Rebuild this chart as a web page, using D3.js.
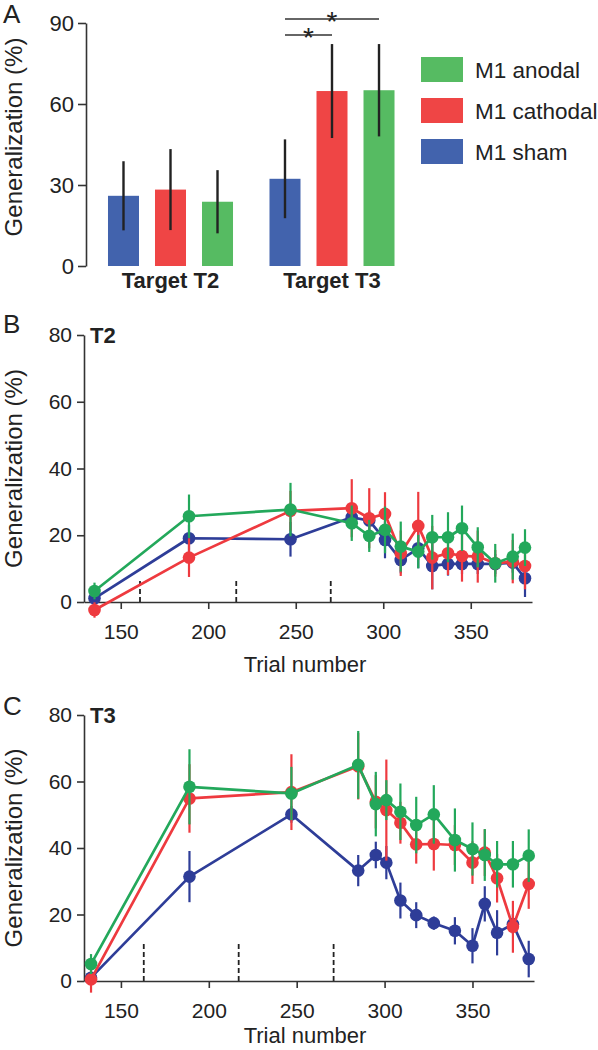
<!DOCTYPE html>
<html>
<head>
<meta charset="utf-8">
<script src="https://cdn.jsdelivr.net/npm/d3@7"></script>
<style>
  html, body { margin: 0; padding: 0; background: #fff; }
  svg { display: block; }
  text { font-family: "Liberation Sans", Arial, Helvetica, sans-serif; fill: #222; }
</style>
</head>
<body>
<svg id="chart" width="598" height="1050"></svg>
<script>
// ---------- DATA ----------
// Panel A (bars)
const groupsA = ["Target T2", "Target T3"];
const seriesNames = ["M1 sham", "M1 cathodal", "M1 anodal"];
const legendOrder = ["M1 anodal", "M1 cathodal", "M1 sham"];
const shamA = [26.0, 32.3];
const cathA = [28.3, 64.8];
const anodA = [23.8, 65.1];
const shamAErr = [12.8, 14.6];
const cathAErr = [15.0, 17.4];
const anodAErr = [11.7, 17.1];
const yTicksA = [0, 30, 60, 90];
const sigPairs = [["M1 sham", "M1 cathodal"], ["M1 sham", "M1 anodal"]];

// Panel B (T2)
const trialsB = [135, 189, 247, 282, 292, 301, 310, 320, 328, 337, 345, 354, 364, 374, 381];
const shamB = [1.1, 19.1, 18.8, 25.4, 24.4, 18.6, 12.6, 16.1, 10.8, 11.4, 11.4, 11.4, 11.4, 11.8, 7.1];
const cathB = [-2.4, 13.3, 27.3, 28.1, 25.1, 26.4, 14.6, 22.8, 13.3, 14.6, 13.8, 13.6, 11.6, 12.1, 10.8];
const anodB = [3.3, 25.7, 27.7, 23.6, 19.8, 21.6, 16.6, 15.1, 19.4, 19.4, 22.1, 16.4, 11.6, 13.6, 16.3];
const shamBErr = [1.5, 4.0, 5.2, 3.0, 3.0, 5.5, 4.0, 6.0, 7.0, 3.5, 3.0, 3.0, 3.0, 3.0, 5.6];
const cathBErr = [2.3, 5.8, 6.0, 8.7, 9.0, 6.5, 6.8, 10.2, 9.5, 6.5, 7.7, 7.8, 4.0, 6.5, 7.0];
const anodBErr = [2.5, 6.5, 8.0, 5.3, 4.8, 7.0, 7.5, 5.0, 6.7, 7.5, 6.8, 6.0, 5.8, 6.9, 5.5];
const blocksB = [161, 216, 270];

// Panel C (T3)
const trialsC = [133, 189, 247, 285, 295, 301, 309, 318, 328, 340, 350, 357, 364, 373, 382];
const shamC = [1.0, 31.4, 50.1, 33.2, 37.9, 35.6, 24.2, 19.8, 17.4, 15.1, 10.6, 23.2, 14.5, 17.1, 6.6];
const cathC = [0.5, 54.9, 56.8, 64.6, 53.9, 51.4, 47.6, 41.1, 41.2, 40.9, 35.6, 38.6, 30.9, 16.3, 29.2];
const anodC = [5.1, 58.4, 56.4, 65.0, 53.2, 54.4, 50.9, 46.9, 50.1, 42.4, 39.7, 37.9, 35.1, 35.1, 37.7];
const shamCErr = [1.5, 7.7, 2.5, 4.7, 4.0, 5.0, 5.4, 3.9, 2.0, 4.1, 5.3, 5.3, 6.8, 3.0, 5.5];
const cathCErr = [4.0, 10.3, 11.4, 10.0, 8.0, 15.2, 6.3, 5.8, 8.0, 6.0, 6.4, 7.0, 7.3, 7.8, 7.5];
const anodCErr = [3.0, 11.3, 8.0, 10.2, 9.7, 6.0, 8.5, 8.5, 8.8, 9.5, 8.0, 7.8, 7.0, 7.0, 7.9];
const blocksC = [163, 217, 271];

const xTicksBC = [150, 200, 250, 300, 350];
const yTicksBC = [0, 20, 40, 60, 80];

// ---------- STYLE ----------
const barColor = { "M1 sham": "#4263ad", "M1 cathodal": "#ef4545", "M1 anodal": "#56bb62" };
const lineColor = { "M1 sham": "#2e3d98", "M1 cathodal": "#ee3a3f", "M1 anodal": "#23a85b" };
const axisColor = "#333";

const svg = d3.select("#chart");

// ---------- PANEL A ----------
(function panelA() {
  const g = svg.append("g");
  const y = d3.scaleLinear().domain([0, 90]).range([266, 23]);
  const x0 = d3.scaleBand().domain(groupsA).range([89.75, 412.75]);
  const x1 = d3.scaleBand().domain(seriesNames).range([0, x0.bandwidth()])
    .paddingInner(16 / 47).paddingOuter(0.388);

  const vals = { "M1 sham": shamA, "M1 cathodal": cathA, "M1 anodal": anodA };
  const errs = { "M1 sham": shamAErr, "M1 cathodal": cathAErr, "M1 anodal": anodAErr };
  const rows = [];
  groupsA.forEach((grp, gi) => seriesNames.forEach(s => rows.push({ grp, s, v: vals[s][gi], e: errs[s][gi] })));

  g.selectAll("rect.bar").data(rows).join("rect")
    .attr("class", "bar")
    .attr("x", d => x0(d.grp) + x1(d.s))
    .attr("width", x1.bandwidth())
    .attr("y", d => y(d.v))
    .attr("height", d => y(0) - y(d.v))
    .attr("fill", d => barColor[d.s]);

  g.selectAll("line.err").data(rows).join("line")
    .attr("class", "err")
    .attr("x1", d => x0(d.grp) + x1(d.s) + x1.bandwidth() / 2)
    .attr("x2", d => x0(d.grp) + x1(d.s) + x1.bandwidth() / 2)
    .attr("y1", d => y(d.v - d.e))
    .attr("y2", d => y(d.v + d.e))
    .attr("stroke", "#222").attr("stroke-width", 2.4);

  // y axis
  const ax = g.append("g").attr("transform", "translate(86,0)")
    .call(d3.axisLeft(y).tickValues(yTicksA).tickSize(8).tickSizeOuter(0).tickPadding(4));
  ax.select(".domain").attr("stroke", axisColor).attr("stroke-width", 1.6);
  ax.selectAll(".tick line").attr("stroke", axisColor).attr("stroke-width", 1.6);
  ax.selectAll(".tick text").attr("font-size", 22).attr("fill", "#222")
    .style("font-family", "'Liberation Sans', Arial, sans-serif");

  // category labels
  g.selectAll("text.cat").data(groupsA).join("text")
    .attr("class", "cat")
    .attr("x", d => x0(d) + x0.bandwidth() / 2)
    .attr("y", 288)
    .attr("text-anchor", "middle")
    .attr("font-size", 22).attr("font-weight", "bold")
    .text(d => d);

  // significance
  const cx = s => x0("Target T3") + x1(s) + x1.bandwidth() / 2;
  sigPairs.forEach((p, i) => {
    const ly = i === 0 ? 35 : 19;
    g.append("line").attr("x1", cx(p[0])).attr("x2", cx(p[1]))
      .attr("y1", ly).attr("y2", ly).attr("stroke", axisColor).attr("stroke-width", 1.6);
    g.append("text").attr("x", (cx(p[0]) + cx(p[1])) / 2)
      .attr("y", ly + 12).attr("text-anchor", "middle").attr("font-size", 28).text("*");
  });

  // y label
  g.append("text").attr("transform", "translate(22,137) rotate(-90)")
    .attr("text-anchor", "middle").attr("font-size", 24).text("Generalization (%)");

  // legend
  legendOrder.forEach((s, i) => {
    const ly = 57 + i * 41;
    g.append("rect").attr("x", 421).attr("y", ly).attr("width", 42).attr("height", 25).attr("fill", barColor[s]);
    g.append("text").attr("x", 475).attr("y", ly + 12.5).attr("dy", "0.36em")
      .attr("font-size", 22.5).text(s);
  });

  g.append("text").attr("x", 3).attr("y", 23).attr("font-size", 26).text("A");
})();

// ---------- PANELS B & C ----------
function linePanel(opt) {
  const g = svg.append("g");
  const x = d3.scaleLinear().domain([129, 385]).range([84, opt.xEnd]);
  const y = d3.scaleLinear().domain([0, 80]).range([opt.y0, opt.y80]);

  // dashed block boundaries
  g.selectAll("line.block").data(opt.blocks).join("line")
    .attr("class", "block")
    .attr("x1", d => x(d)).attr("x2", d => x(d))
    .attr("y1", y(0)).attr("y2", y(opt.blockH))
    .attr("stroke", "#222").attr("stroke-width", 1.8).attr("stroke-dasharray", "5,3");

  // axes
  const xa = g.append("g").attr("transform", `translate(0,${y(0)})`)
    .call(d3.axisBottom(x).tickValues(xTicksBC).tickSize(7).tickSizeOuter(0).tickPadding(15));
  xa.select(".domain").attr("stroke", axisColor).attr("stroke-width", 1.6);
  xa.selectAll(".tick line").attr("stroke", axisColor).attr("stroke-width", 1.6);
  xa.selectAll(".tick text").attr("font-size", 21).attr("fill", "#222")
    .style("font-family", "'Liberation Sans', Arial, sans-serif");

  const ya = g.append("g").attr("transform", "translate(84,0)")
    .call(d3.axisLeft(y).tickValues(yTicksBC).tickSize(7).tickSizeOuter(0).tickPadding(5));
  ya.select(".domain").attr("stroke", axisColor).attr("stroke-width", 1.6);
  ya.selectAll(".tick line").attr("stroke", axisColor).attr("stroke-width", 1.6);
  ya.selectAll(".tick text").attr("font-size", 21).attr("fill", "#222")
    .style("font-family", "'Liberation Sans', Arial, sans-serif");

  // series
  const line = d3.line().x(d => x(d.t)).y(d => y(d.v));
  opt.series.forEach(s => {
    const pts = opt.trials.map((t, i) => ({ t, v: s.vals[i], e: s.errs[i] }));
    const col = lineColor[s.name];
    g.append("path").datum(pts).attr("d", line)
      .attr("fill", "none").attr("stroke", col).attr("stroke-width", 2.7).attr("stroke-linejoin", "round");
    g.selectAll(null).data(pts).join("line")
      .attr("x1", d => x(d.t)).attr("x2", d => x(d.t))
      .attr("y1", d => y(d.v - d.e)).attr("y2", d => y(d.v + d.e))
      .attr("stroke", col).attr("stroke-width", 2.2);
    g.selectAll(null).data(pts).join("circle")
      .attr("cx", d => x(d.t)).attr("cy", d => y(d.v)).attr("r", 6.3).attr("fill", col);
  });

  // labels
  g.append("text").attr("x", 90).attr("y", opt.y80 + 8).attr("font-size", 22).attr("font-weight", "bold").text(opt.title);
  g.append("text").attr("x", 305).attr("y", Math.min(y(0) + 70, 1043)).attr("text-anchor", "middle").attr("font-size", 22).text("Trial number");
  g.append("text").attr("transform", `translate(22,${(y(0) + y(80)) / 2}) rotate(-90)`)
    .attr("text-anchor", "middle").attr("font-size", 24).text("Generalization (%)");
  g.append("text").attr("x", 3).attr("y", opt.letterY).attr("font-size", 26).text(opt.letter);
}

linePanel({
  letter: "B", letterY: 333, title: "T2", y0: 602, y80: 335, xEnd: 532,
  trials: trialsB, blocks: blocksB, blockH: 7,
  series: [
    { name: "M1 sham", vals: shamB, errs: shamBErr },
    { name: "M1 cathodal", vals: cathB, errs: cathBErr },
    { name: "M1 anodal", vals: anodB, errs: anodBErr }
  ]
});

linePanel({
  letter: "C", letterY: 715, title: "T3", y0: 981, y80: 715, xEnd: 534,
  trials: trialsC, blocks: blocksC, blockH: 12,
  series: [
    { name: "M1 sham", vals: shamC, errs: shamCErr },
    { name: "M1 cathodal", vals: cathC, errs: cathCErr },
    { name: "M1 anodal", vals: anodC, errs: anodCErr }
  ]
});
</script>
</body>
</html>
